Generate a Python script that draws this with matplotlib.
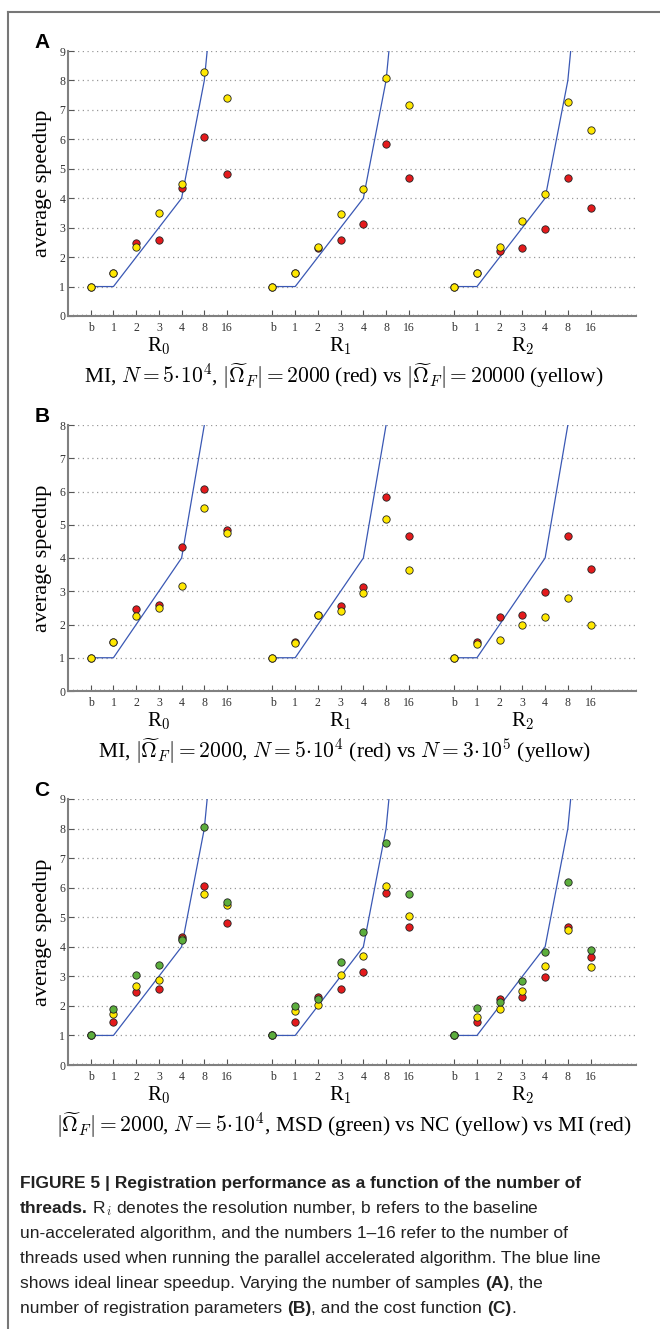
import numpy as np
from matplotlib import pyplot as plt
from matplotlib.lines import Line2D
from matplotlib.ticker import MultipleLocator

plt.rcParams['mathtext.fontset'] = 'cm'

# ---- data (average speedup), groups R0 | R1 | R2, each b,1,2,3,4,8,16 ----
thread_labels = ['b', '1', '2', '3', '4', '8', '16']
group_labels = ['R$_0$', 'R$_1$', 'R$_2$']
ideal = [1, 1, 2, 3, 4, 8, 16]

A_red = [1.0, 1.47, 2.47, 2.58, 4.34, 6.09, 4.83,
         1.0, 1.47, 2.30, 2.57, 3.13, 5.83, 4.67,
         1.0, 1.46, 2.21, 2.30, 2.96, 4.67, 3.67]
A_yellow = [1.0, 1.47, 2.35, 3.50, 4.49, 8.28, 7.41,
            1.0, 1.47, 2.35, 3.47, 4.30, 8.09, 7.17,
            1.0, 1.46, 2.34, 3.22, 4.15, 7.27, 6.33]

B_red = [1.0, 1.47, 2.46, 2.58, 4.34, 6.08, 4.83,
         1.0, 1.47, 2.29, 2.56, 3.14, 5.82, 4.66,
         1.0, 1.48, 2.22, 2.29, 2.97, 4.66, 3.66]
B_yellow = [1.0, 1.47, 2.26, 2.51, 3.15, 5.50, 4.76,
            1.0, 1.45, 2.29, 2.41, 2.94, 5.17, 3.65,
            1.0, 1.41, 1.53, 1.97, 2.23, 2.81, 1.99]

C_red = [1.0, 1.46, 2.46, 2.56, 4.34, 6.07, 4.82,
         1.0, 1.46, 2.31, 2.57, 3.14, 5.81, 4.67,
         1.0, 1.47, 2.23, 2.30, 2.97, 4.67, 3.66]
C_yellow = [1.0, 1.72, 2.67, 2.86, 4.25, 5.80, 5.41,
            1.0, 1.82, 2.02, 3.05, 3.69, 6.04, 5.03,
            1.0, 1.64, 1.89, 2.51, 3.34, 4.57, 3.32]
C_green = [1.0, 1.88, 3.06, 3.40, 4.22, 8.05, 5.53,
           1.0, 2.01, 2.25, 3.47, 4.51, 7.50, 5.78,
           1.0, 1.92, 2.13, 2.83, 3.82, 6.19, 3.89]

RED = '#e41a1c'
YELLOW = '#ffe800'
GREEN = '#5cae3c'
BLUE = '#3a58b4'

captions = [
    r'MI, $N = 5\!\cdot\!10^4$, $|\widetilde{\Omega}_F| = 2000$ (red) vs $|\widetilde{\Omega}_F| = 20000$ (yellow)',
    r'MI, $|\widetilde{\Omega}_F| = 2000$, $N = 5\!\cdot\!10^4$ (red) vs $N = 3\!\cdot\!10^5$ (yellow)',
    r'$|\widetilde{\Omega}_F| = 2000$, $N = 5\!\cdot\!10^4$, MSD (green) vs NC (yellow) vs MI (red)',
]

W, H = 660, 1329
fig = plt.figure(figsize=(W / 100, H / 100), dpi=100)
fig.patch.set_facecolor('w')

# outer frame (open on right and bottom)
fig.add_artist(Line2D([8 / W, 1], [1 - 12 / H, 1 - 12 / H], color='#777777', lw=1.5,
                      transform=fig.transFigure))
fig.add_artist(Line2D([8 / W, 8 / W], [1 - 12 / H, 0], color='#777777', lw=1.5,
                      transform=fig.transFigure))

panels = [
    ('A', 51, 316, 9, [(A_red, RED), (A_yellow, YELLOW)]),
    ('B', 425, 691, 8, [(B_red, RED), (B_yellow, YELLOW)]),
    ('C', 799, 1065, 9, [(C_red, RED), (C_yellow, YELLOW), (C_green, GREEN)]),
]

serif = 'Liberation Serif'
xpos = []
for g in range(3):
    xpos += [g * 8 + 1 + i for i in range(7)]
xpos = np.array(xpos)

for k, (letter, top, bottom, ymax, series) in enumerate(panels):
    ax = fig.add_axes([68 / W, 1 - bottom / H, 568 / W, (bottom - top) / H])
    for s in ['top', 'right']:
        ax.spines[s].set_visible(False)
    for s in ['left', 'bottom']:
        ax.spines[s].set_color('#808080')
        ax.spines[s].set_linewidth(1.5)
    ax.set_xlim(0, 25)
    ax.set_ylim(0, ymax)
    ax.set_yticks(range(ymax + 1))
    ax.set_yticklabels([str(v) for v in range(ymax + 1)], family=serif, size=8.5, color='#333333')
    ax.set_xticks(xpos)
    ax.set_xticklabels(thread_labels * 3, family=serif, size=8.5, color='#333333')
    ax.xaxis.set_minor_locator(MultipleLocator(0.2))
    ax.tick_params(axis='x', which='major', direction='in', length=4, width=0.8,
                   color='#555555', pad=4)
    ax.tick_params(axis='x', which='minor', direction='in', length=1.5, width=0.5,
                   color='#888888')
    ax.tick_params(axis='y', direction='in', length=4, width=0.8, color='#555555', pad=2)
    ax.grid(axis='y', ls=(0, (1, 2.8)), color='#999999', lw=0.9)
    ax.set_axisbelow(True)

    for g in range(3):
        ax.plot(xpos[g * 7:(g + 1) * 7], ideal, color=BLUE, lw=0.9, zorder=2)
        ax.annotate(group_labels[g], xy=(g * 8 + 4, 0), xycoords=('data', 'axes fraction'),
                    xytext=(0, -22), textcoords='offset points', ha='center', va='center',
                    family=serif, size=15)

    for vals, col in series:
        ax.scatter(xpos, vals, s=28, c=col, edgecolors='#222222', linewidths=0.6, zorder=3,
                   clip_on=False)

    fig.text(43 / W, 1 - (top + bottom) / 2 / H, 'average speedup', rotation=90,
             ha='center', va='center', family=serif, size=16)
    fig.text(42 / W, 1 - (top - 9) / H, letter, ha='center', va='center',
             family='Liberation Sans', weight='bold', size=15)
    fig.text(344 / W, 1 - (bottom + 60) / H, captions[k], ha='center', va='center',
             family=serif, size=15.5)

# bottom figure caption with mixed bold / regular runs
cap_family = ['Liberation Sans Narrow', 'Liberation Sans']
cap_size = 12.5
renderer = fig.canvas.get_renderer()
caption_lines = [
    [('FIGURE 5 | Registration performance as a function of the number of', 'bold')],
    [('threads.', 'bold'), (r' R$_{i}$ denotes the resolution number, b refers to the baseline', 'normal')],
    [('un-accelerated algorithm, and the numbers 1\u201316 refer to the number of', 'normal')],
    [('threads used when running the parallel accelerated algorithm. The blue line', 'normal')],
    [('shows ideal linear speedup. Varying the number of samples ', 'normal'), ('(A)', 'bold'),
     (', the', 'normal')],
    [('number of registration parameters ', 'normal'), ('(B)', 'bold'),
     (', and the cost function ', 'normal'), ('(C)', 'bold'), ('.', 'normal')],
]
for i, parts in enumerate(caption_lines):
    x = 20
    y = 1188 + i * 25
    for txt, wt in parts:
        t = fig.text(x / W, 1 - y / H, txt, va='baseline', ha='left', family=cap_family,
                     weight=wt, size=cap_size, color='#222222')
        x += t.get_window_extent(renderer).width

fig.savefig('out.png', dpi=100)
